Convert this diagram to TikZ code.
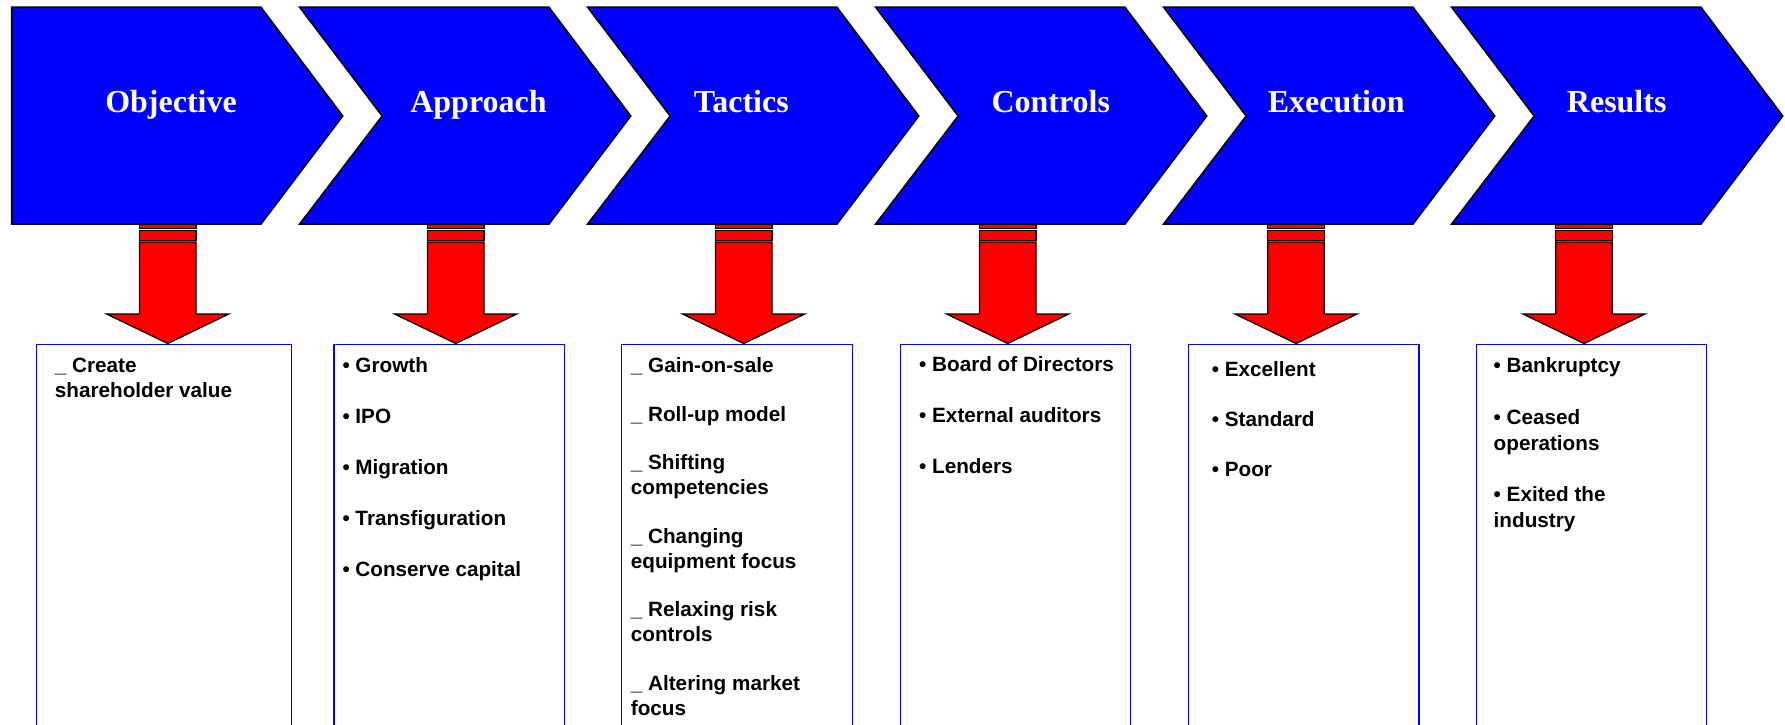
\documentclass[tikz,border=0pt]{standalone}
\usepackage{fontspec}
\newfontfamily\listfamily{Liberation Sans}
\newfontfamily\stagefamily{Liberation Serif}
\usetikzlibrary{calc}
\definecolor{stageblue}{RGB}{0,0,255}
\definecolor{arrowred}{RGB}{255,0,0}

\begin{document}
\begin{tikzpicture}[x=1pt,y=-1pt,
  stage/.style={fill=stageblue,draw=black,line width=1.6pt,line join=miter},
  stagetitle/.style={anchor=base,text=white,inner sep=0pt,font=\stagefamily\bfseries\fontsize{32}{38}\selectfont},
  downarrow/.style={fill=arrowred,draw=black,line width=1.3pt},
  listbox/.style={draw=stageblue,line width=1.3pt,anchor=north west,minimum width=#1,minimum height=420pt,inner sep=0pt},
  listbox/.default=230pt,
  listtext/.style={anchor=base west,inner sep=0pt,font=\listfamily\bfseries\fontsize{20.7}{#1}\selectfont},
  listtext/.default=25.5pt]

% Page and clipping
\useasboundingbox (0,0) rectangle (1785,725);
\clip (0,0) rectangle (1785,725);

% Boxes below the stages
\node[listbox=254.8pt] (box1) at (35.7,344) {};
\node[listbox=230.7pt] (box2) at (333.3,344) {};
\node[listbox=230.5pt] (box3) at (621,344) {};
\node[listbox=230pt]   (box4) at (900,344) {};
\node[listbox=230.5pt] (box5) at (1187.7,344) {};
\node[listbox=230pt]   (box6) at (1476,344) {};

% Red arrows from each stage down to its box
\foreach \ax in {167.7,455.7,743.7,1007.7,1296,1584}{
  \draw[downarrow] (\ax-28.3,224) rectangle (\ax+28.3,228.6);
  \draw[downarrow] (\ax-28.3,230.2) rectangle (\ax+28.3,240.2);
  \draw[downarrow] (\ax-28.3,242) -- (\ax+28.3,242) -- (\ax+28.3,314)
    -- (\ax+61,314) -- (\ax,343.5) -- (\ax-61,314) -- (\ax-28.3,314) -- cycle;
}

% Stages (the first one has no notch)
\foreach \i/\tx/\ttl in {0/159.3/Objective,1/178.8/Approach,2/153.6/Tactics,
                         3/175.1/Controls,4/172.6/Execution,5/165/Results}{
  \pgfmathsetmacro\L{11.7+288*\i}
  \pgfmathsetmacro\N{\i==0 ? 0 : 82.5}
  \draw[stage] (\L,7.3) -- (\L+249.3,7.3) -- (\L+331,116) -- (\L+249.3,224)
    -- (\L,224) -- (\L+\N,116) -- cycle;
  \node[stagetitle] (\ttl) at (\L+\tx,112.7) {\ttl};
}

% Box texts
\node[listtext=24.7pt] (txt1) at (54.7,372.3) {\begin{tabular}[t]{@{}l@{}}
  \_ Create\\shareholder value\end{tabular}};
\node[listtext] (txt2) at (342.3,372.7) {\begin{tabular}[t]{@{}l@{}}
  • Growth\\[25.5pt]• IPO\\[25.5pt]• Migration\\[25.5pt]• Transfiguration\\[25.5pt]• Conserve capital\end{tabular}};
\node[listtext=24.7pt] (txt3) at (630.7,372.3) {\begin{tabular}[t]{@{}l@{}}
  \_ Gain-on-sale\\[24.1pt]\_ Roll-up model\\[24.1pt]\_ Shifting\\competencies\\[24.1pt]%
  \_ Changing\\equipment focus\\[24.1pt]\_ Relaxing risk\\controls\\[24.1pt]\_ Altering market\\focus\end{tabular}};
\node[listtext] (txt4) at (919,371.7) {\begin{tabular}[t]{@{}l@{}}
  • Board of Directors\\[25.5pt]• External auditors\\[25.5pt]• Lenders\end{tabular}};
\node[listtext=25.2pt] (txt5) at (1211.7,376) {\begin{tabular}[t]{@{}l@{}}
  • Excellent\\[25.2pt]• Standard\\[25.2pt]• Poor\end{tabular}};
\node[listtext=26pt] (txt6) at (1493.5,372.7) {\begin{tabular}[t]{@{}l@{}}
  • Bankruptcy\\[25.3pt]• Ceased\\operations\\[25.3pt]• Exited the\\industry\end{tabular}};

\end{tikzpicture}
\end{document}
